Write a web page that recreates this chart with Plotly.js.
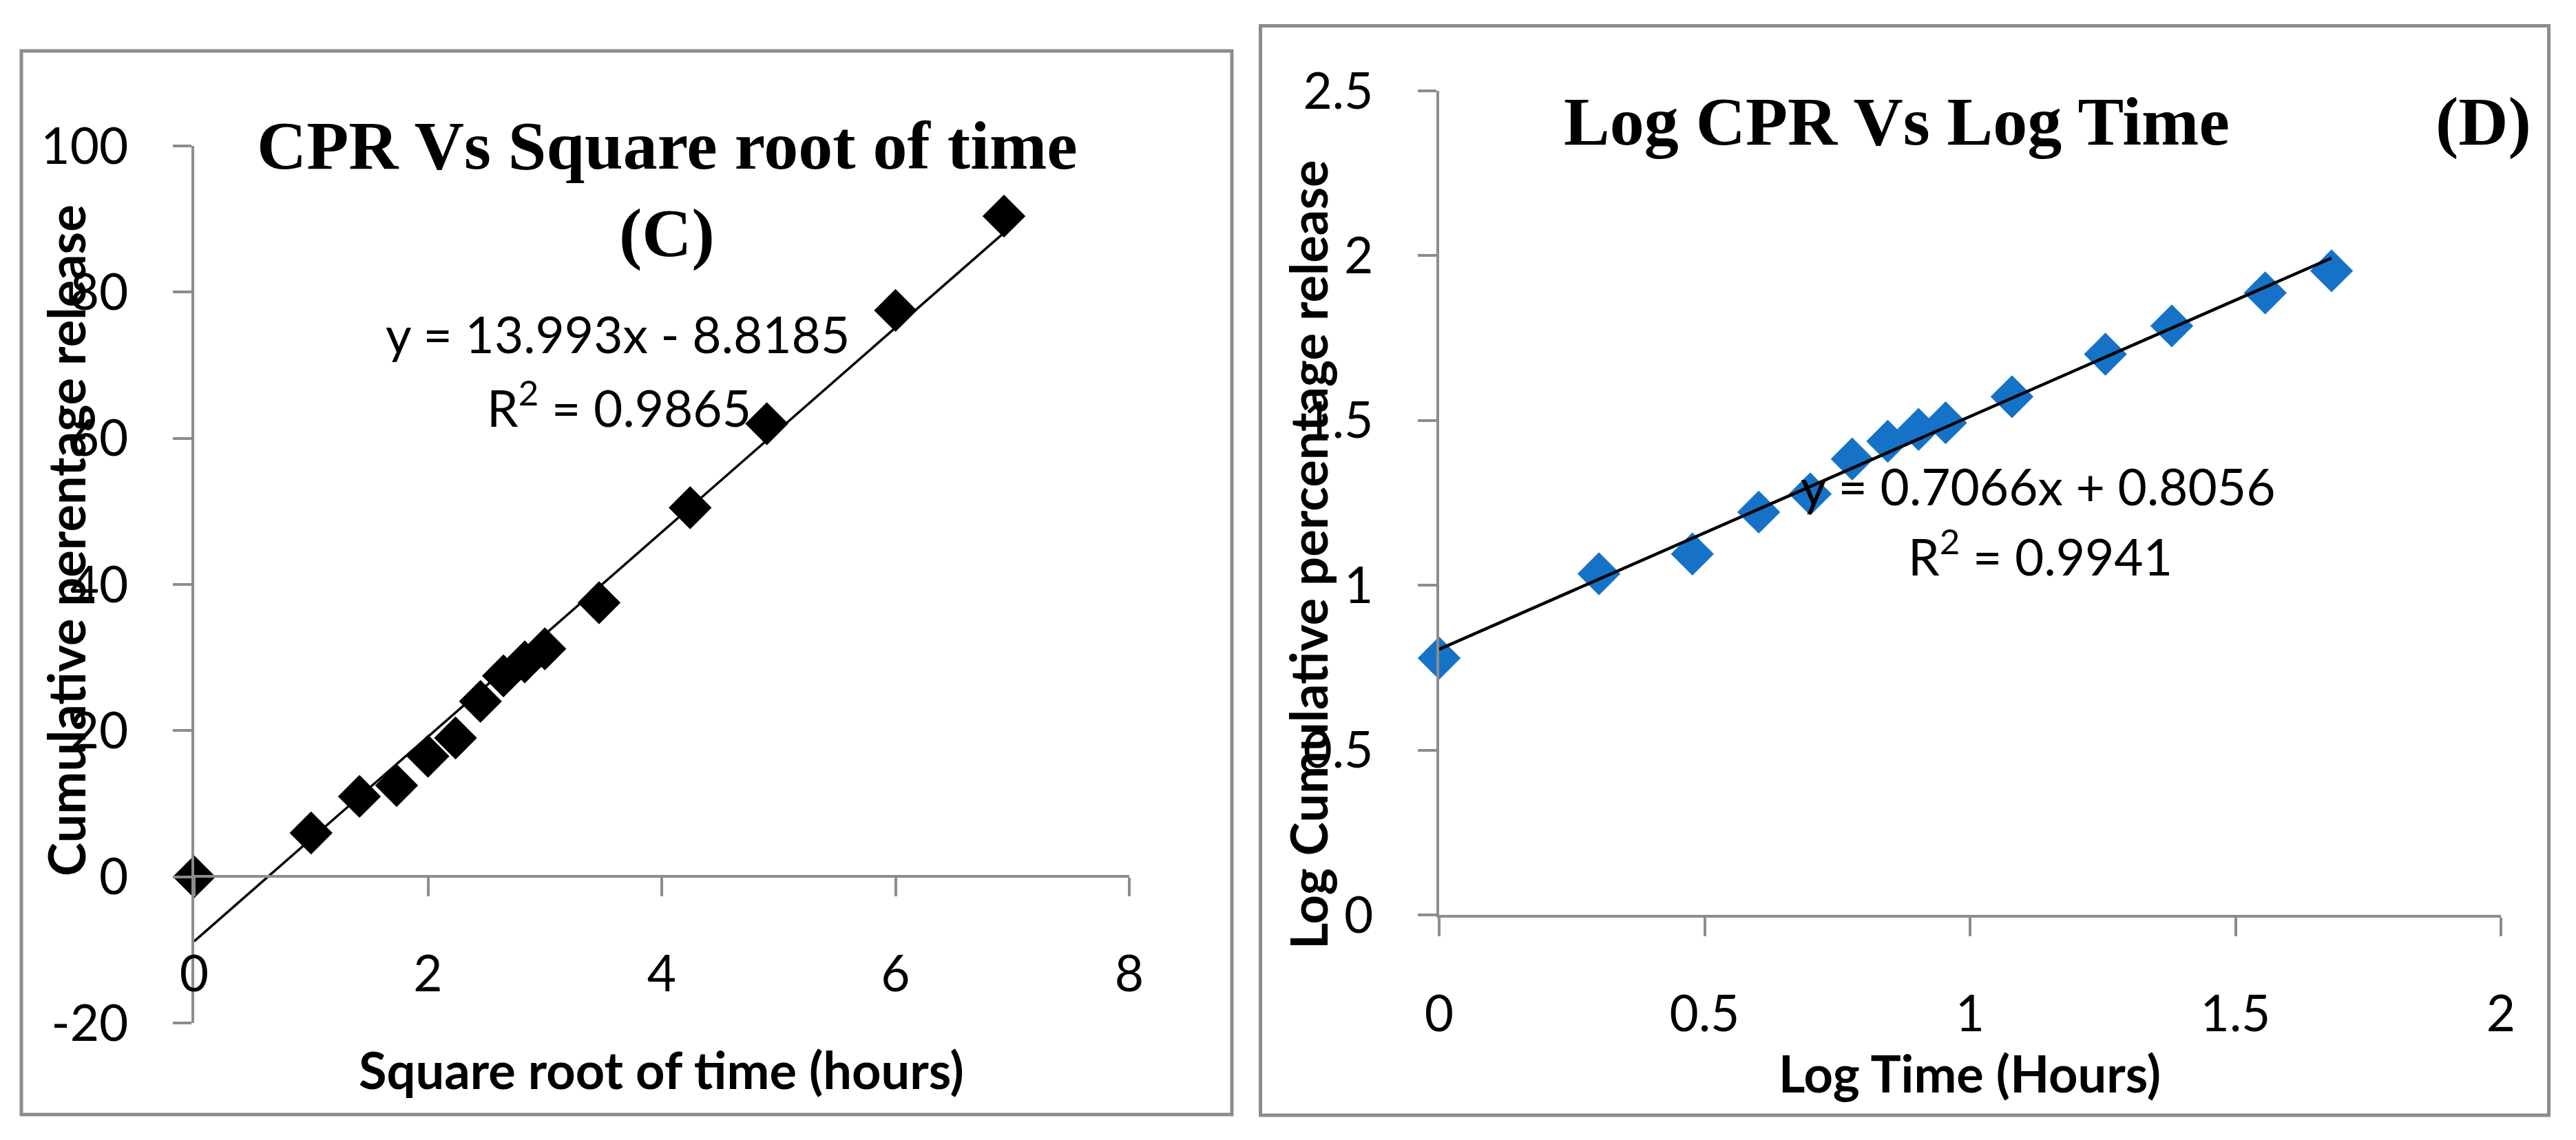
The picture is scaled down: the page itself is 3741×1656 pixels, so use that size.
<!DOCTYPE html>
<html>
<head>
<meta charset="utf-8">
<script src="https://cdn.plot.ly/plotly-3.0.1.min.js"></script>
<style>html,body{margin:0;padding:0;background:#fff;}#chart{width:3741px;height:1656px;}</style>
</head>
<body>
<div id="chart"></div>
<script>
// ---- Data ----
const sqrtTime = [0, 1, 1.414, 1.732, 2, 2.236, 2.449, 2.646, 2.828, 3, 3.464, 4.243, 4.899, 6, 6.928];
const cpr      = [0, 6, 11, 12.5, 16.5, 19, 24, 27.5, 29.4, 31.2, 37.5, 50.5, 62, 77.5, 90.4];
const trendC_x = [0, 6.928];
const trendC_y = [-8.82, 88.12];

const logTime  = [0, 0.301, 0.477, 0.602, 0.699, 0.778, 0.845, 0.903, 0.954, 1.079, 1.255, 1.380, 1.556, 1.681];
const logCpr   = [0.779, 1.035, 1.095, 1.222, 1.277, 1.383, 1.437, 1.473, 1.493, 1.572, 1.701, 1.787, 1.887, 1.954];
const trendD_x = [0, 1.681];
const trendD_y = [0.806, 1.993];

const xTicksC = [0, 2, 4, 6, 8];
const yTicksC = [-20, 0, 20, 40, 60, 80, 100];
const yTickTextC = ["-20", "0", "20", "40", "60", "80", "100"];
const xTicksD = [0, 0.5, 1, 1.5, 2];
const yTicksD = [0, 0.5, 1, 1.5, 2, 2.5];

const titleC1 = "CPR Vs Square root of time";
const titleC2 = "(C)";
const titleD1 = "Log CPR Vs Log Time";
const titleD2 = "(D)";
const eqC = "y = 13.993x - 8.8185";
const r2C = "R<sup>2</sup> = 0.9865";
const eqD = "y = 0.7066x + 0.8056";
const r2D = "R<sup>2</sup> = 0.9941";
const xTitleC = "Square root of time (hours)";
const yTitleC = "Cumulative perentage release";
const xTitleD = "Log Time (Hours)";
const yTitleD = "Log Cumulative percentage release";

// ---- Layout helpers ----
const W = 3741, H = 1656;
const px = x => x / W;
const py = y => 1 - y / H;
const GRAY = "#8c8c8c";
const BLUE = "#1672c7";
const tickFont = {family: "Lato, 'Open Sans', sans-serif", size: 73, color: "#000"};
const boldFont = {family: "Lato, 'Open Sans', sans-serif", size: 74, color: "#000", weight: "bold"};
const serifFont = {family: "'Liberation Serif', 'DejaVu Serif', serif", size: 100, color: "#000", weight: "bold"};
const eqFont = {family: "Lato, 'Open Sans', sans-serif", size: 73, color: "#000"};

function axisBase(extra) {
  return Object.assign({
    showgrid: false, zeroline: false, showline: true,
    linecolor: GRAY, linewidth: 4,
    ticks: "outside", ticklen: 27, tickwidth: 4, tickcolor: GRAY,
    tickfont: tickFont, autorange: false, fixedrange: true,
    ticklabelstandoff: 50
  }, extra);
}

const traces = [
  {x: sqrtTime, y: cpr, type: "scatter", mode: "markers", xaxis: "x", yaxis: "y",
   marker: {symbol: "diamond", size: 48, color: "#000", line: {width: 0}}, cliponaxis: false, hoverinfo: "skip"},
  {x: trendC_x, y: trendC_y, type: "scatter", mode: "lines", xaxis: "x", yaxis: "y",
   line: {color: "#000", width: 3.5}, cliponaxis: false, hoverinfo: "skip"},
  {x: logTime, y: logCpr, type: "scatter", mode: "markers", xaxis: "x2", yaxis: "y2",
   marker: {symbol: "diamond", size: 48, color: BLUE, line: {width: 0}}, cliponaxis: false, hoverinfo: "skip"},
  {x: trendD_x, y: trendD_y, type: "scatter", mode: "lines", xaxis: "x2", yaxis: "y2",
   line: {color: "#000", width: 4.5}, cliponaxis: false, hoverinfo: "skip"}
];

function ann(text, x, y, font, extra) {
  return Object.assign({text: text, x: px(x), y: py(y), xref: "paper", yref: "paper",
    xanchor: "center", yanchor: "middle", showarrow: false, font: font}, extra || {});
}

const layout = {
  width: W, height: H,
  margin: {l: 0, r: 0, t: 0, b: 0, pad: 0},
  paper_bgcolor: "#fff", plot_bgcolor: "rgba(0,0,0,0)",
  showlegend: false,
  xaxis: axisBase({domain: [px(282), px(1640)], range: [0, 8], tickvals: xTicksC,
    anchor: "free", position: py(1273)}),
  yaxis: axisBase({domain: [py(1486), py(212)], range: [-20, 100], tickvals: yTicksC,
    ticktext: yTickTextC, anchor: "x"}),
  xaxis2: axisBase({domain: [px(2090), px(3632)], range: [0, 2], tickvals: xTicksD, anchor: "y2"}),
  yaxis2: axisBase({domain: [py(1329), py(132)], range: [0, 2.5], tickvals: yTicksD, anchor: "x2"}),
  shapes: [
    {type: "rect", xref: "paper", yref: "paper", x0: px(31), x1: px(1789), y0: py(74), y1: py(1619),
     line: {color: GRAY, width: 5}, fillcolor: "rgba(0,0,0,0)", layer: "below"},
    {type: "rect", xref: "paper", yref: "paper", x0: px(1830.5), x1: px(3701.5), y0: py(37.5), y1: py(1620),
     line: {color: GRAY, width: 5}, fillcolor: "rgba(0,0,0,0)", layer: "below"}
  ],
  annotations: [
    ann(titleC1, 969, 211, serifFont),
    ann(titleC2, 968, 338, serifFont),
    ann(titleD1, 2754, 176, serifFont),
    ann(titleD2, 3606, 176, serifFont),
    ann(eqC, 897, 485, eqFont),
    ann(r2C, 899, 587, eqFont),
    ann(eqD, 2960, 706, eqFont),
    ann(r2D, 2963, 804, eqFont),
    ann(xTitleC, 960, 1553, boldFont),
    ann(xTitleD, 2860, 1558, boldFont),
    ann(yTitleC, 95, 785, boldFont, {textangle: -90}),
    ann(yTitleD, 1900, 806, boldFont, {textangle: -90})
  ]
};

Plotly.newPlot("chart", traces, layout, {staticPlot: true, displayModeBar: false});
</script>
</body>
</html>
